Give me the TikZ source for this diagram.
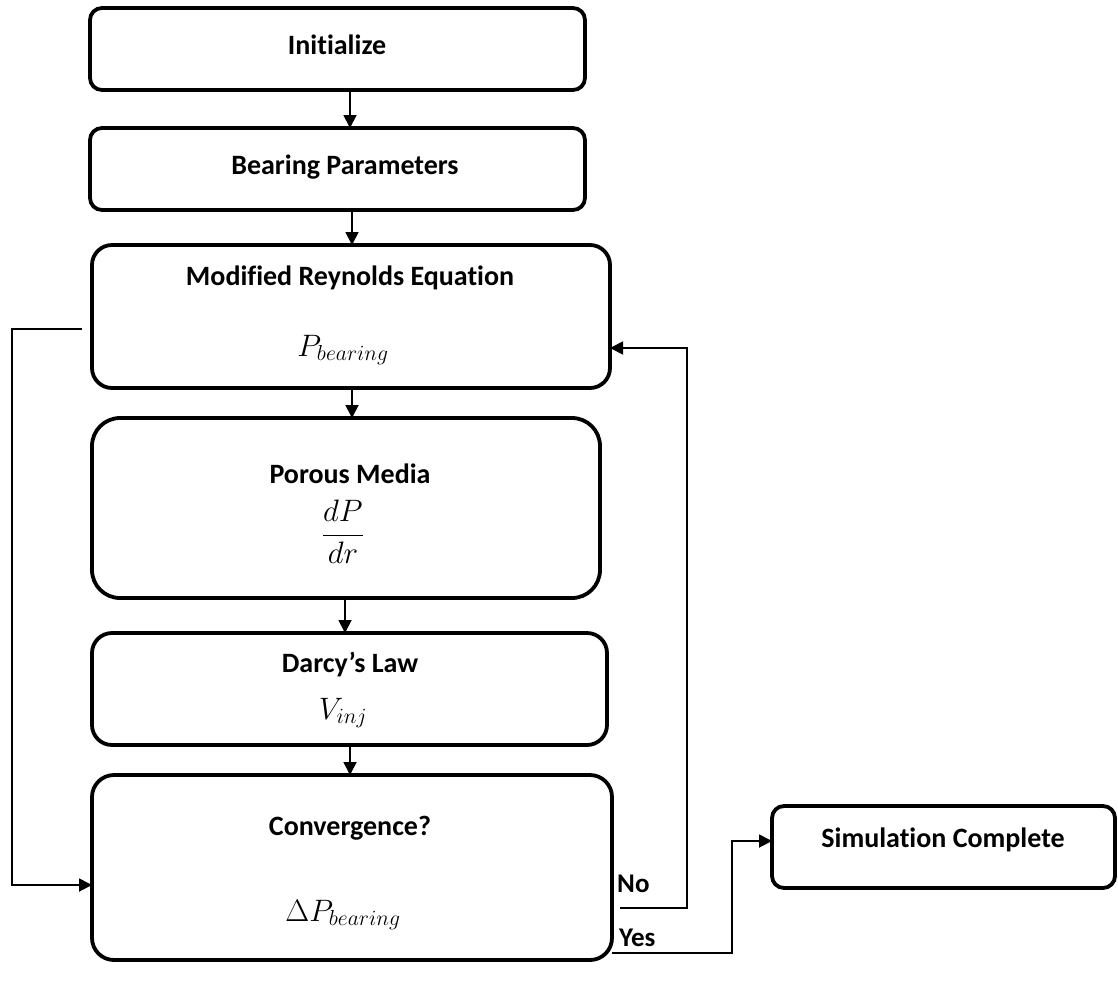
\RequirePackage{fix-cm}
\documentclass[tikz,border=0pt]{standalone}
\usepackage{fontspec}
\setmainfont{Carlito}[Ligatures=NoCommon]
\usetikzlibrary{arrows.meta,calc}
\begin{document}
\begin{tikzpicture}[x=1pt,y=-1pt,
  box/.style={draw=black, line width=3.8pt, inner sep=0pt, outer sep=0pt, fill=white},
  ttl/.style={font=\fontsize{28}{32}\selectfont\bfseries, inner sep=0pt},
  eq/.style={font=\fontsize{31}{36}\selectfont, inner sep=0pt},
  lbl/.style={font=\fontsize{27}{30}\selectfont\bfseries, inner sep=0pt, anchor=west},
  conn/.style={draw=black, line width=1.8pt},
  arr/.style={conn, -{Triangle[length=13pt,width=13pt]}}
]
\useasboundingbox (0,0) rectangle (1118,983);

% boxes
\node[box, rounded corners=12pt, minimum width=495pt, minimum height=82pt] (init) at (337.5,49) {};
\node[box, rounded corners=12pt, minimum width=495pt, minimum height=82pt] (bear) at (337.5,169) {};
\node[box, rounded corners=20pt, minimum width=518pt, minimum height=143pt] (mre) at (351,316.5) {};
\node[box, rounded corners=28pt, minimum width=508pt, minimum height=180pt] (por) at (346,508) {};
\node[box, rounded corners=20pt, minimum width=515pt, minimum height=112pt] (dar) at (349.5,689) {};
\node[box, rounded corners=22pt, minimum width=520pt, minimum height=185pt] (conv) at (352,867.5) {};
\node[box, rounded corners=12pt, minimum width=343pt, minimum height=82pt] (sim) at (943.5,847) {};

% texts
\node[ttl] (tinit) at (337,45) {Initialize};
\node[ttl] (tbear) at (345,167) {Bearing Parameters};
\node[ttl] (tmre) at (350,278) {Modified Reynolds Equation};
\node[eq] (emre) at (343,350) {$P_{bearing}$};
\node[ttl] (tpor) at (350,474) {Porous Media};
\node[eq] (epor) at (343,532) {$\displaystyle\frac{dP}{dr}$};
\node[ttl] (tdar) at (350,665) {Darcy’s Law};
\node[eq] (edar) at (343,713) {$V_{inj}$};
\node[ttl] (tconv) at (350,828) {Convergence?};
\node[eq] (econv) at (343,915) {$\Delta P_{bearing}$};
\node[ttl] (tsim) at (943,840) {Simulation Complete};

% vertical arrows
\coordinate (a1) at (350,0);
\coordinate (a2) at (352,0);
\coordinate (a3) at (352,0);
\coordinate (a4) at (345,0);
\coordinate (a5) at (350,0);
\draw[arr] (init.south -| a1) -- (bear.north -| a1);
\draw[arr] (bear.south -| a2) -- (mre.north -| a2);
\draw[arr] (mre.south -| a3) -- (por.north -| a3);
\draw[arr] (por.south -| a4) -- (dar.north -| a4);
\draw[arr] (dar.south -| a5) -- (conv.north -| a5);

% left loop
\coordinate (l0) at (82,329);
\coordinate (l1) at (12,329);
\coordinate (l2) at (12,885);
\draw[arr] (l0) -- (l1) -- (l2) -- (l2 -| conv.west);

% No loop
\coordinate (n0) at (620,908);
\coordinate (n1) at (687,908);
\coordinate (n2) at (687,348);
\draw[arr] (n0) -- (n1) -- (n2) -- (n2 -| mre.east);
\node[lbl] (lno) at (617,884) {No};

% Yes
\coordinate (y0) at (612,953);
\coordinate (y1) at (732,953);
\coordinate (y2) at (732,841);
\draw[arr] (y0 -| conv.east) -- (y1) -- (y2) -- (y2 -| sim.west);
\node[lbl] (lyes) at (619,938) {Yes};
\end{tikzpicture}
\end{document}
